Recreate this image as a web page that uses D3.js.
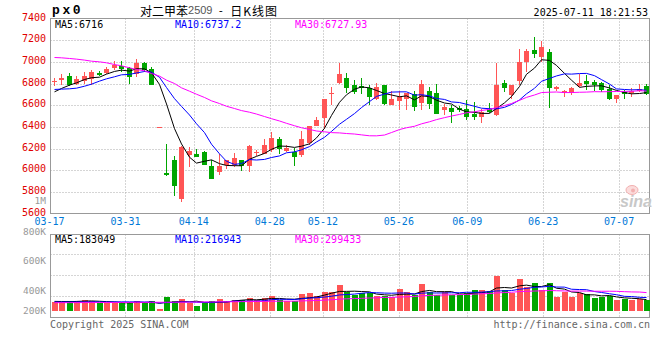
<!DOCTYPE html>
<html><head><meta charset="utf-8">
<script src="https://cdn.jsdelivr.net/npm/d3@7/dist/d3.min.js"></script>
<style>body{margin:0;background:#fff}svg{display:block}</style>
</head><body><svg id="c" width="660" height="360"></svg>
<script>
// ---------------- data ----------------
const dates = ["03-17","03-18","03-19","03-20","03-21","03-24","03-25","03-26","03-27","03-28","03-31",
"04-01","04-02","04-03","04-07","04-08","04-09","04-10","04-11","04-14","04-15","04-16","04-17","04-18","04-21","04-22","04-23","04-24","04-25","04-28","04-29","04-30",
"05-06","05-07","05-08","05-09","05-12","05-13","05-14","05-15","05-16","05-19","05-20","05-21","05-22","05-23","05-26","05-27","05-28","05-29","05-30",
"06-03","06-04","06-05","06-06","06-09","06-10","06-11","06-12","06-13","06-16","06-17","06-18","06-19","06-20","06-23","06-24","06-25","06-26","06-27","06-30",
"07-01","07-02","07-03","07-04","07-07","07-08","07-09","07-10","07-11"];
const opens  = [6815,6831,6865,6800,6825,6846,6895,6899,6940,6963,6940,6892,6990,6932,6394,5978,6098,5737,6138,6153,6165,6036,5984,6052,6045,6092,6039,6165,6147,6184,6286,6178,6168,6138,6255,6412,6477,6705,6806,6852,6785,6775,6754,6655,6785,6600,6637,6661,6701,6621,6732,6714,6554,6575,6575,6569,6523,6492,6569,6507,6806,6692,6825,7000,7108,7046,7092,6748,6714,6708,6781,6822,6815,6809,6745,6655,6717,6708,6732,6778];
const highs  = [6855,6886,6895,6868,6908,6923,6920,6954,7010,7010,6955,7022,7000,6954,6394,6246,6129,6220,6215,6200,6178,6098,6153,6092,6160,6092,6230,6190,6292,6353,6307,6230,6208,6360,6406,6492,6660,6770,6991,6898,6831,6852,6785,6806,6785,6729,6729,6714,6732,6831,6769,6800,6615,6600,6590,6646,6630,6569,6621,6991,6831,6785,7114,7114,7231,7191,7123,6778,6738,6769,6892,6877,6831,6815,6785,6692,6738,6754,6800,6794];
const lows   = [6780,6785,6780,6785,6795,6785,6870,6892,6925,6908,6800,6862,6908,6785,6394,5950,5762,5707,6030,6120,6045,5919,5953,6015,6030,5993,5984,6130,6147,6168,6153,6168,6039,6122,6230,6406,6384,6600,6800,6714,6700,6700,6600,6646,6600,6600,6560,6560,6547,6554,6569,6517,6507,6436,6540,6461,6461,6436,6530,6500,6723,6661,6785,6908,7031,7000,6578,6732,6671,6692,6769,6738,6732,6723,6646,6621,6661,6671,6723,6692];
const closes = [6825,6855,6790,6846,6868,6908,6880,6930,6970,6930,6862,6990,6923,6788,6394,5960,5854,6215,6175,6122,6045,5919,6039,6092,6113,6039,6221,6172,6230,6298,6193,6208,6122,6286,6406,6467,6655,6712,6892,6754,6723,6760,6671,6769,6615,6655,6677,6714,6584,6800,6615,6517,6584,6538,6560,6492,6492,6538,6538,6785,6754,6785,7000,7102,7071,7139,6754,6769,6732,6760,6806,6800,6790,6738,6661,6692,6701,6732,6752,6703];
const volumesK = [149,149,160,160,177,160,122,132,132,122,143,160,122,160,28,226,160,193,132,77,122,160,193,160,177,177,209,177,209,242,177,160,160,276,297,242,314,314,424,303,258,286,286,242,242,220,358,303,258,441,314,258,303,258,258,297,341,341,325,570,341,297,520,386,455,341,455,220,314,220,290,270,215,231,248,176,190,185,190,174];
// moving-average values for days whose window starts before the chart
const ma5Head  = [6723,6754,6785,6806];
const ma10Head = [6745,6748,6751,6757,6775,6794,6822,6843,6862];
const ma30Head = [7040,7037,7031,7025,7016,7006,7000,6991,6975,6963,6945,6929,6917,6892,6868,6831,6800,6760,6729,6701,6671,6640,6615,6590,6569,6550,6535,6518,6495];
const vma5HeadK  = [154,152,150,153];
const vma10HeadK = [143,143,144,144,145,146,145,144,145];
const vma30HeadK = [132,133,133,134,134,135,135,136,136,137,137,138,138,139,139,140,141,141,142,143,144,145,146,147,148,150,151,153,154];
const priceTicks = [7400,7200,7000,6800,6600,6400,6200,6000,5800,5600];
const volTickValues = [1000000,800000,600000,400000,200000];
const volTickLabels = ["1M","800K","600K","400K","200K"];
const dateTicks = ["03-17","03-31","04-14","04-28","05-12","05-26","06-09","06-23","07-07"];
const legendMain = ["MA5:6716","MA10:6737.2","MA30:6727.93"];
const legendVol  = ["MA5:183049","MA10:216943","MA30:299433"];
const titleName = "对二甲苯", titleCode = "2509", titleTail = "日K线图";
const symbol = "px0";
const stamp = "2025-07-11 18:21:53";

// ---------------- helpers ----------------
const UP = "#ff5555", DOWN = "#00a600";
const MA_COLORS = ["#000000", "#0000ff", "#ff00ff"];
const MONO = "'DejaVu Sans Mono', 'Liberation Mono', monospace";
function movingAvg(arr, n, head) {
  return arr.map((v, i) => i < head.length ? head[i] : d3.mean(arr.slice(i - n + 1, i + 1)));
}
const volumes = volumesK.map(v => v * 1000);
const data = dates.map((d, i) => ({d, i, o: opens[i], h: highs[i], l: lows[i], c: closes[i], v: volumes[i]}));
const maP = [movingAvg(closes, 5, ma5Head), movingAvg(closes, 10, ma10Head), movingAvg(closes, 30, ma30Head)];
const maV = [movingAvg(volumes, 5, vma5HeadK.map(v=>v*1000)), movingAvg(volumes, 10, vma10HeadK.map(v=>v*1000)), movingAvg(volumes, 30, vma30HeadK.map(v=>v*1000))];

// ---------------- layout ----------------
const svg = d3.select("#c");
const left = 50.5, right = 649.5;
const mTop = 18.5, mBot = 213.5;
const vTop = 234.5, vBot = 317.5;

const x = d3.scaleBand().domain(dates).range([50, 650]);
const cx = d => Math.round(x(d) + x.bandwidth() / 2);
const gx = d3.scaleLinear().domain([0, dates.length - 1]).range([49.5, 649.5]);
const y = d3.scaleLinear().domain([5600, 7400]).range([mBot, mTop]);
const yv = d3.scaleLinear().domain([0, 1000000]).range([310.7, 250.2]);
const yvLabel = d3.scaleLinear().domain([400000, 1000000]).range([290.3, 200.7]);

const grid = svg.append("g").attr("stroke", "#aaa").attr("stroke-dasharray", "1,2").attr("stroke-width", 1);
priceTicks.filter(t => t > 5600 && t < 7400).forEach(t => {
  const yy = Math.round(y(t)) + 0.5;
  grid.append("line").attr("x1", left).attr("x2", right).attr("y1", yy).attr("y2", yy);
});
[1, 2, 3].forEach(k => {
  const yy = Math.round(vTop + (vBot - vTop) * k / 4) - 0.5;
  grid.append("line").attr("x1", left).attr("x2", right).attr("y1", yy).attr("y2", yy);
});
dateTicks.slice(1).forEach(t => {
  const xx = Math.round(gx(dates.indexOf(t))) + 0.5;
  grid.append("line").attr("x1", xx).attr("x2", xx).attr("y1", mTop).attr("y2", mBot);
  grid.append("line").attr("x1", xx).attr("x2", xx).attr("y1", vTop).attr("y2", vBot);
});

svg.append("rect").attr("x", left).attr("y", mTop).attr("width", right - left).attr("height", mBot - mTop)
  .attr("fill", "none").attr("stroke", "#999");
svg.append("rect").attr("x", left).attr("y", vTop).attr("width", right - left).attr("height", vBot - vTop)
  .attr("fill", "none").attr("stroke", "#999");

// sina watermark
const wm = svg.append("g");
wm.append("ellipse").attr("cx", 632).attr("cy", 190).attr("rx", 6).attr("ry", 4.5).attr("fill", "#fbdcdc").attr("stroke", "#f2b0b0");
wm.append("circle").attr("cx", 633).attr("cy", 190.5).attr("r", 2).attr("fill", "#f2b0b0");
wm.append("text").attr("x", 620).attr("y", 207).text("sina")
  .attr("font-family", "'Liberation Sans', Arial, sans-serif").attr("font-style", "italic").attr("font-weight", "bold")
  .attr("font-size", 16).attr("fill", "#c8c8c8");

// candles
const cg = svg.append("g").attr("shape-rendering", "crispEdges");
data.forEach(p => {
  const col = p.c >= p.o ? UP : DOWN;
  const xc = cx(p.d);
  cg.append("line").attr("x1", xc + 0.5).attr("x2", xc + 0.5).attr("y1", y(p.h)).attr("y2", y(p.l)).attr("stroke", col);
  const top = y(Math.max(p.o, p.c)), bot = y(Math.min(p.o, p.c));
  cg.append("rect").attr("x", xc - 2).attr("width", 5).attr("y", top).attr("height", Math.max(1, bot - top)).attr("fill", col);
});
const lineP = d3.line().x((v, i) => cx(dates[i]) + 0.5).y(v => y(v));
maP.forEach((arr, k) => svg.append("path").attr("d", lineP(arr)).attr("fill", "none").attr("stroke", MA_COLORS[k]).attr("stroke-width", 1));

// volume bars
const vg = svg.append("g").attr("shape-rendering", "crispEdges");
data.forEach(p => {
  const col = p.c >= p.o ? UP : DOWN;
  const xc = cx(p.d);
  vg.append("rect").attr("x", xc - 2.5).attr("width", 6).attr("y", yv(p.v)).attr("height", yv(0) - yv(p.v)).attr("fill", col);
});
const lineV = d3.line().x((v, i) => cx(dates[i]) + 0.5).y(v => yv(v));
maV.forEach((arr, k) => svg.append("path").attr("d", lineV(arr)).attr("fill", "none").attr("stroke", MA_COLORS[k]).attr("stroke-width", 1));

// axis labels
const txt = svg.append("g").attr("font-family", MONO).attr("font-size", 10);
priceTicks.forEach(t => {
  txt.append("text").attr("x", 46).attr("y", y(t) - 1.5).attr("dominant-baseline", "central")
    .attr("text-anchor", "end").attr("fill", "#e00000").text(t);
});
volTickValues.forEach((v, i) => {
  txt.append("text").attr("x", 46).attr("y", Math.min(yvLabel(v), yv(0) - 0.5) + (i === 1 ? 1.2 : 0)).attr("dominant-baseline", "central")
    .attr("text-anchor", "end").attr("font-size", 9.5).attr("fill", "#999").text(volTickLabels[i]);
});
dateTicks.forEach(t => {
  txt.append("text").attr("x", gx(dates.indexOf(t))).attr("y", 221).attr("dominant-baseline", "central")
    .attr("text-anchor", "middle").attr("fill", "#0078d7").text(t);
});
const legX = [55, 175, 295];
legendMain.forEach((s, k) => txt.append("text").attr("x", legX[k]).attr("y", 24).attr("dominant-baseline", "central").attr("fill", MA_COLORS[k]).text(s));
legendVol.forEach((s, k) => txt.append("text").attr("x", legX[k]).attr("y", 239.5).attr("dominant-baseline", "central").attr("fill", MA_COLORS[k]).text(s));

// header
svg.append("text").attr("x", 52).attr("y", 10).attr("dominant-baseline", "central")
  .attr("font-family", "'Liberation Mono', 'DejaVu Sans Mono', monospace").attr("font-weight", "bold")
  .attr("font-size", 13).attr("letter-spacing", 2.6).attr("fill", "#000").text(symbol);
const tt = svg.append("text").attr("x", 140).attr("y", 10).attr("dominant-baseline", "central").attr("fill", "#000");
tt.append("tspan").attr("font-family", "'Noto Sans CJK SC', sans-serif").attr("font-size", 12).text(titleName);
tt.append("tspan").attr("font-family", "'Liberation Sans', Arial, sans-serif").attr("font-size", 11).attr("fill", "#555").text(titleCode);
tt.append("tspan").attr("font-family", MONO).attr("font-size", 11).attr("dx", 5).text("-");
tt.append("tspan").attr("font-family", "'Noto Sans CJK SC', sans-serif").attr("font-size", 12).attr("dx", 6).attr("letter-spacing", 1).text(titleTail);
txt.append("text").attr("x", 648).attr("y", 12).attr("dominant-baseline", "central").attr("text-anchor", "end").attr("fill", "#000").text(stamp);
// footer
txt.append("text").attr("x", 50).attr("y", 324.5).attr("dominant-baseline", "central").attr("fill", "#666").text("Copyright 2025 SINA.COM");
txt.append("text").attr("x", 650).attr("y", 324).attr("dominant-baseline", "central").attr("text-anchor", "end").attr("fill", "#666").text("http://finance.sina.com.cn");
</script></body></html>
